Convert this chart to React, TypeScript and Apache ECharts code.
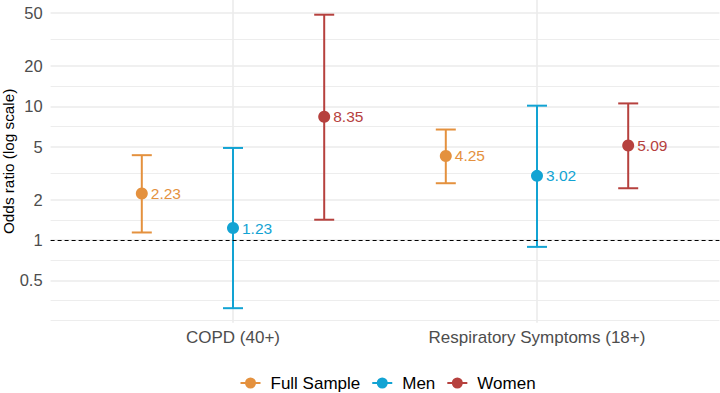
import React, { useEffect, useRef } from "react";
import * as echarts from "echarts";

const CATEGORIES = ["COPD (40+)", "Respiratory Symptoms (18+)"];
const GROUPS = ["Full Sample", "Men", "Women"];
const COLORS = ["#E4913E", "#12A3D3", "#B6413E"];
const GROUP_OFFSETS = [-0.3, 0, 0.3];

const OR_FULL = [2.23, 4.25];
const LOW_FULL = [1.14, 2.66];
const HIGH_FULL = [4.31, 6.7];
const OR_MEN = [1.23, 3.02];
const LOW_MEN = [0.31, 0.89];
const HIGH_MEN = [4.88, 10.1];
const OR_WOMEN = [8.35, 5.09];
const LOW_WOMEN = [1.42, 2.44];
const HIGH_WOMEN = [48.3, 10.5];

const Y_TICKS = [0.5, 1, 2, 5, 10, 20, 50];
const Y_MINOR = [0.25, 0.354, 0.707, 1.414, 3.162, 7.071, 14.14, 31.62];
const Y_LIMITS = [0.2415, 62.2];
const X_LIMITS = [0.4, 2.6];
const REF_LINE = 1;

const FONT = '"Liberation Sans", Arial, Helvetica, sans-serif';
const lg = (v: number) => Math.log10(v);

const ICON =
  "path://M0,4.5h20v2h-20z M4.5,5.5a5.5,5.5 0 1,1 11,0a5.5,5.5 0 1,1 -11,0z";

export default function App() {
  const ref = useRef<HTMLDivElement>(null);
  useEffect(() => {
    if (!ref.current) return;
    const chart = echarts.init(ref.current, undefined, { renderer: "svg" });
    const groupsData = [
      { or: OR_FULL, low: LOW_FULL, high: HIGH_FULL },
      { or: OR_MEN, low: LOW_MEN, high: HIGH_MEN },
      { or: OR_WOMEN, low: LOW_WOMEN, high: HIGH_WOMEN },
    ];
    const series: any[] = [];
    groupsData.forEach((g, gi) => {
      series.push({
        type: "custom",
        name: GROUPS[gi],
        xAxisIndex: 0,
        yAxisIndex: 0,
        z: 3,
        data: CATEGORIES.map((_, ci) => [ci + 1 + GROUP_OFFSETS[gi], lg(g.low[ci]), lg(g.high[ci])]),
        renderItem: (params: any, api: any) => {
          const x = api.value(0);
          const lo = api.coord([x, api.value(1)]);
          const hi = api.coord([x, api.value(2)]);
          const w = 10;
          const style = { stroke: COLORS[gi], lineWidth: 2 };
          return {
            type: "group",
            children: [
              { type: "line", shape: { x1: lo[0], y1: lo[1], x2: hi[0], y2: hi[1] }, style },
              { type: "line", shape: { x1: hi[0] - w, y1: hi[1], x2: hi[0] + w, y2: hi[1] }, style },
              { type: "line", shape: { x1: lo[0] - w, y1: lo[1], x2: lo[0] + w, y2: lo[1] }, style },
            ],
          };
        },
      });
    });
    groupsData.forEach((g, gi) => {
      series.push({
        type: "scatter",
        name: GROUPS[gi],
        xAxisIndex: 0,
        yAxisIndex: 0,
        z: 4,
        symbol: "circle",
        symbolSize: 12,
        itemStyle: { color: COLORS[gi], opacity: 1 },
        label: {
          show: true,
          position: "right",
          distance: 3,
          color: COLORS[gi],
          fontSize: 15.5,
          fontFamily: FONT,
          formatter: (p: any) => p.value[2].toFixed(2),
        },
        data: CATEGORIES.map((_, ci) => [ci + 1 + GROUP_OFFSETS[gi], lg(g.or[ci]), g.or[ci]]),
        markLine:
          gi === 0
            ? {
                silent: true,
                symbol: "none",
                label: { show: false },
                lineStyle: { color: "#000", width: 1, type: [4, 3] },
                data: [{ yAxis: lg(REF_LINE) }],
              }
            : undefined,
      });
    });

    const option: any = {
      animation: false,
      backgroundColor: "#fff",
      textStyle: { fontFamily: FONT },
      grid: {
        left: 50.6,
        right: 0.6,
        top: 0,
        bottom: 70.3,
        containLabel: false,
        outerBoundsMode: "none",
      },
      legend: {
        left: 235.5,
        top: 369.5,
        padding: 5,
        itemGap: 12,
        itemWidth: 20,
        itemHeight: 11,
        data: GROUPS.map((n, i) => ({ name: n, icon: ICON, itemStyle: { color: COLORS[i] } })),
        textStyle: { fontSize: 17, color: "#000", fontFamily: FONT, padding: [0, 0, 0, 5] },
      },
      xAxis: {
        type: "value",
        min: X_LIMITS[0],
        max: X_LIMITS[1],
        axisLine: { show: false },
        axisTick: { show: false, customValues: [1, 2] },
        axisLabel: {
          customValues: [1, 2],
          formatter: (v: number) => CATEGORIES[Math.round(v) - 1] ?? "",
          color: "#4D4D4D",
          fontSize: 17,
          fontFamily: FONT,
          margin: 6,
        },
        splitLine: { show: true, lineStyle: { color: "#EBEBEB", width: 1.6 } },
      },
      yAxis: [
        {
          type: "value",
          min: lg(Y_LIMITS[0]),
          max: lg(Y_LIMITS[1]),
          name: "Odds ratio (log scale)",
          nameLocation: "middle",
          nameGap: 35,
          nameMoveOverlap: false,
          nameTextStyle: { fontSize: 15.3, color: "#000", fontFamily: FONT },
          axisLine: { show: false },
          axisTick: { show: false, customValues: Y_TICKS.map(lg) },
          axisLabel: {
            customValues: Y_TICKS.map(lg),
            formatter: (v: number) => String(+Math.pow(10, v).toPrecision(2)),
            color: "#4D4D4D",
            fontSize: 16.5,
            fontFamily: FONT,
            margin: 8,
          },
          splitLine: { show: true, lineStyle: { color: "#EBEBEB", width: 1.6 } },
        },
        {
          type: "value",
          min: lg(Y_LIMITS[0]),
          max: lg(Y_LIMITS[1]),
          position: "left",
          axisLine: { show: false },
          axisTick: { show: false, customValues: Y_MINOR.map(lg) },
          axisLabel: { show: false },
          splitLine: { show: true, lineStyle: { color: "#EDEDED", width: 1 } },
        },
      ],
      series,
    };
    chart.setOption(option);
    return () => chart.dispose();
  }, []);
  return (
    <div
      ref={ref}
      style={{ position: "fixed", left: 0, top: 0, width: 720, height: 393 }}
    />
  );
}
